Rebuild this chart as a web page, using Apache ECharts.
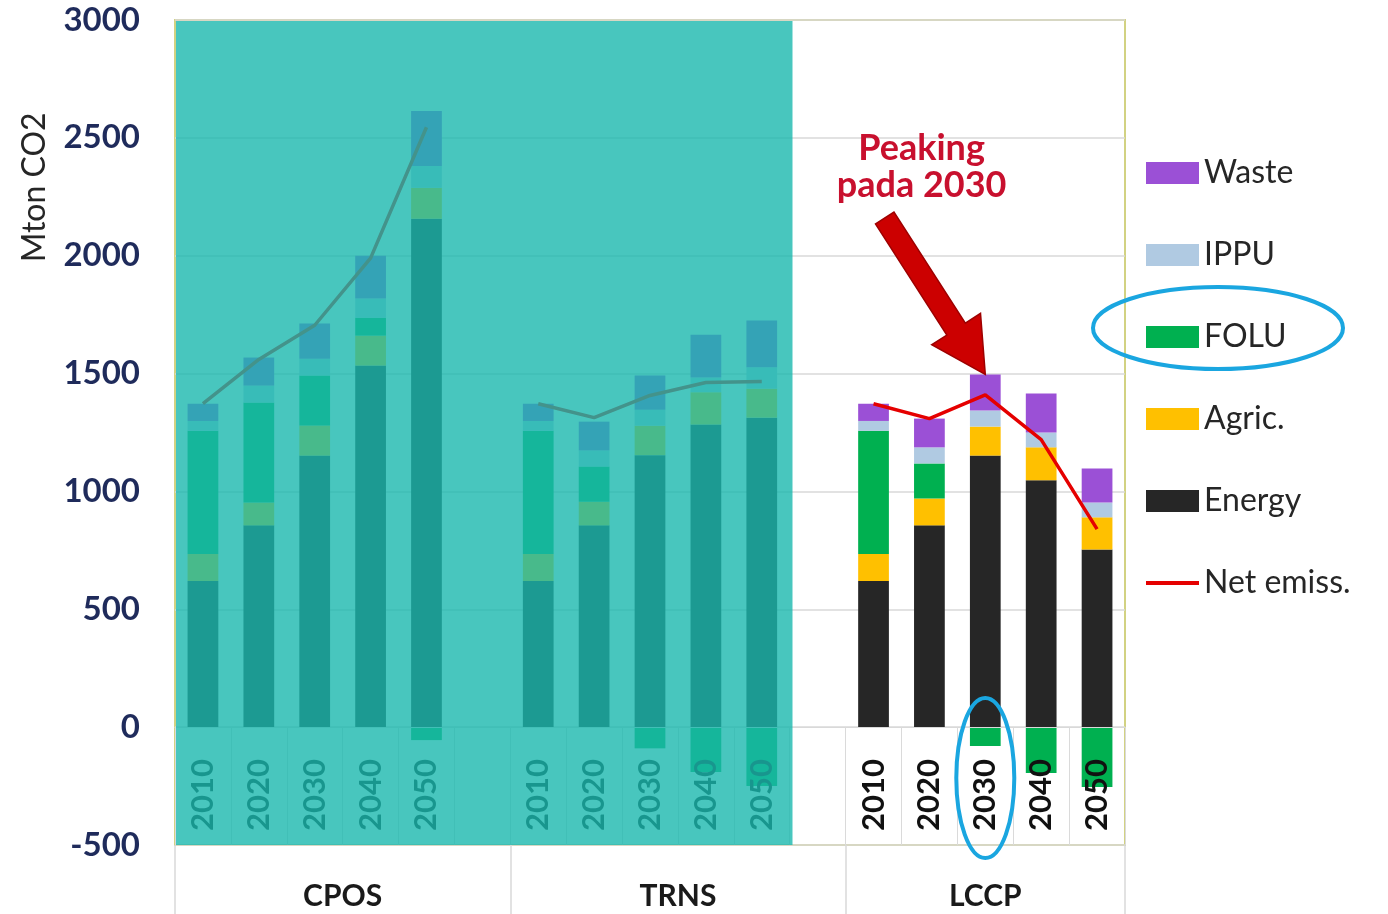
<!DOCTYPE html>
<html>
<head>
<meta charset="utf-8">
<script src="https://cdn.jsdelivr.net/npm/echarts@6/dist/echarts.min.js"></script>
<style>
  html, body { margin: 0; padding: 0; background: #ffffff; }
  #chart { width: 1388px; height: 914px; }
</style>
</head>
<body>
<div id="chart"></div>
<script>
// Scenario groups and the years inside each one (a blank slot separates groups)
const scenarios = ['CPOS', 'TRNS', 'LCCP'];
const years = ['2010', '2020', '2030', '2040', '2050'];
const yearSlots = [
  '2010', '2020', '2030', '2040', '2050', '',
  '2010', '2020', '2030', '2040', '2050', '',
  '2010', '2020', '2030', '2040', '2050'
];

// Emissions by sector, Mton CO2 (CPOS | gap | TRNS | gap | LCCP)
const energy = [620, 856, 1152, 1534, 2157, null, 620, 856, 1154, 1284, 1313, null, 620, 856, 1152, 1047, 754];
const agric  = [115, 97, 128, 127, 131, null, 115, 100, 125, 137, 123, null, 115, 114, 123, 140, 136];
const folu   = [522, 424, 212, 76, -55, null, 522, 150, -90, -190, -250, null, 522, 149, -80, -195, -254];
const ippu   = [42, 72, 71, 81, 93, null, 42, 68, 68, 62, 91, null, 42, 68, 68, 63, 63];
const waste  = [73, 119, 149, 182, 233, null, 73, 122, 145, 182, 198, null, 73, 122, 153, 165, 144];
const netEmission = [1372, 1560, 1705, 1990, 2545, null, 1372, 1313, 1407, 1462, 1466, null, 1372, 1309, 1410, 1220, 840];

// y-axis ticks
const yMin = -500, yMax = 3000, yStep = 500;

// Group label positions on the slot scale (0..17) and group boundaries
const groupCenters = [3, 9, 14.5];
const groupEdges = [0, 6, 12, 17];

const FONT = 'Lato, "Open Sans", sans-serif';

const chart = echarts.init(document.getElementById('chart'), null, { renderer: 'canvas' });

const barSeries = (name, data, color) => ({
  name: name,
  type: 'bar',
  stack: 'total',
  xAxisIndex: 0,
  yAxisIndex: 0,
  barCategoryGap: '45%',
  itemStyle: { color: color },
  data: data
});

const option = {
  backgroundColor: '#ffffff',
  animation: false,
  textStyle: { fontFamily: FONT },
  grid: {
    left: 175, right: 263, top: 20, bottom: 69,
    outerBoundsMode: 'none',
    containLabel: false,
    show: true, borderColor: '#D2D282', borderWidth: 2, backgroundColor: 'transparent'
  },
  legend: {
    orient: 'vertical',
    left: 1141,
    top: 151,
    itemWidth: 53,
    itemHeight: 22,
    itemGap: 48,
    textStyle: { fontSize: 32, color: '#262626', fontFamily: FONT, lineHeight: 34 },
    data: [
      { name: 'Waste', icon: 'rect' },
      { name: 'IPPU', icon: 'rect' },
      { name: 'FOLU', icon: 'rect' },
      { name: 'Agric.', icon: 'rect' },
      { name: 'Energy', icon: 'rect' },
      { name: 'Net emiss.', icon: 'path://M0,0L52,0L52,4L0,4Z' }
    ]
  },
  xAxis: [
    {
      // year axis; it is lifted onto the zero line once the grid is laid out
      type: 'category',
      data: yearSlots,
      position: 'bottom',
      z: 10,
      axisLine: { show: true, onZero: false, lineStyle: { color: '#D9D9D9', width: 1 } },
      axisTick: { show: true, length: 118, interval: 0, lineStyle: { color: '#DADADA', width: 1 } },
      axisLabel: {
        interval: 0, rotate: 90, margin: 32,
        fontSize: 31, fontWeight: 'bold', color: '#111111', fontFamily: FONT
      },
      splitLine: { show: false }
    },
    {
      type: 'value',
      min: 0, max: 17,
      position: 'bottom',
      axisLine: { show: false, onZero: false },
      splitLine: { show: false },
      axisTick: {
        show: true, length: 69, customValues: groupEdges,
        lineStyle: { color: '#D9D9D9', width: 1.5 }
      },
      axisLabel: {
        show: true, margin: 36, customValues: groupCenters,
        fontSize: 30, fontWeight: 'bold', color: '#1a1a1a', fontFamily: FONT,
        formatter: function (v) {
          const i = groupCenters.indexOf(v);
          return i >= 0 ? scenarios[i] : '';
        }
      }
    }
  ],
  yAxis: {
    type: 'value',
    min: yMin, max: yMax, interval: yStep,
    axisLine: { show: false, onZero: false },
    axisTick: { show: false },
    axisLabel: {
      fontSize: 33, fontWeight: 'bold', color: '#1F2B5B', margin: 35, fontFamily: FONT,
      formatter: v => String(v)
    },
    splitLine: { show: true, lineStyle: { color: '#D9D9D9', width: 1.5 } }
  },
  series: [
    barSeries('Energy', energy, '#262626'),
    barSeries('Agric.', agric, '#FFC000'),
    barSeries('FOLU', folu, '#00B050'),
    barSeries('IPPU', ippu, '#B0CAE2'),
    barSeries('Waste', waste, '#9B50D6'),
    {
      name: 'Net emiss.',
      type: 'line',
      xAxisIndex: 0,
      yAxisIndex: 0,
      symbol: 'none',
      connectNulls: false,
      z: 5,
      lineStyle: { color: '#E50000', width: 3.5 },
      itemStyle: { color: '#E50000' },
      data: netEmission
    }
  ]
};

chart.setOption(option);

const sx = v => chart.convertToPixel({ xAxisIndex: 1 }, v);
const sy = v => chart.convertToPixel({ yAxisIndex: 0 }, v);

// move the year axis up from the bottom edge to the zero line
chart.setOption({ xAxis: [{ offset: -(sy(yMin) - sy(0)) }, {}] });

// Annotation layer: teal veil over the first two scenarios, callout arrow, highlight rings
const veilLeft = sx(0) + 1, veilRight = sx(11.05);
const veilTop = sy(yMax) + 1, veilBottom = sy(yMin);

// arrow from the callout text down to the LCCP 2030 peak
const peakIdx = 14;
const peakTop = energy[peakIdx] + agric[peakIdx] + ippu[peakIdx] + waste[peakIdx];
const tail = [sx(12.7), sy(2160)];
const head = [sx(14.5), sy(peakTop)];
const dx = head[0] - tail[0], dy = head[1] - tail[1];
const len = Math.hypot(dx, dy);
const ux = dx / len, uy = dy / len, nx = -uy, ny = ux;
const shaftW = 11, headW = 29, headL = 54;
const neck = [head[0] - ux * headL, head[1] - uy * headL];
const arrowPts = [
  [tail[0] + nx * shaftW, tail[1] + ny * shaftW],
  [neck[0] + nx * shaftW, neck[1] + ny * shaftW],
  [neck[0] + nx * headW, neck[1] + ny * headW],
  head,
  [neck[0] - nx * headW, neck[1] - ny * headW],
  [neck[0] - nx * shaftW, neck[1] - ny * shaftW],
  [tail[0] - nx * shaftW, tail[1] - ny * shaftW]
];

chart.setOption({
  graphic: [
    {
      type: 'rect', z: 100, silent: true,
      shape: { x: veilLeft, y: veilTop, width: veilRight - veilLeft, height: veilBottom - veilTop },
      style: { fill: 'rgba(26,184,174,0.80)' }
    },
    {
      type: 'polygon', z: 110, silent: true,
      shape: { points: arrowPts },
      style: { fill: '#CC0000', stroke: '#9E0000', lineWidth: 1.5 }
    },
    {
      type: 'text', z: 110, silent: true,
      x: sx(13.36), y: sy(2375),
      style: {
        text: 'Peaking\npada 2030',
        fill: '#C8102E',
        font: 'bold 36px ' + FONT,
        align: 'center', verticalAlign: 'middle', lineHeight: 37
      }
    },
    {
      type: 'ellipse', z: 110, silent: true,
      shape: { cx: sx(14.5), cy: sy(-216), rx: 29, ry: 80 },
      style: { fill: 'none', stroke: '#1AA6E0', lineWidth: 4 }
    },
    {
      type: 'ellipse', z: 110, silent: true,
      shape: { cx: 1218, cy: 328, rx: 125, ry: 41 },
      style: { fill: 'none', stroke: '#1AA6E0', lineWidth: 4 }
    },
    {
      type: 'text', z: 110, silent: true,
      x: 35, y: sy(2290), rotation: Math.PI / 2,
      style: {
        text: 'Mton CO2', fill: '#262626', font: '32px ' + FONT,
        align: 'center', verticalAlign: 'middle'
      }
    }
  ]
});
</script>
</body>
</html>
